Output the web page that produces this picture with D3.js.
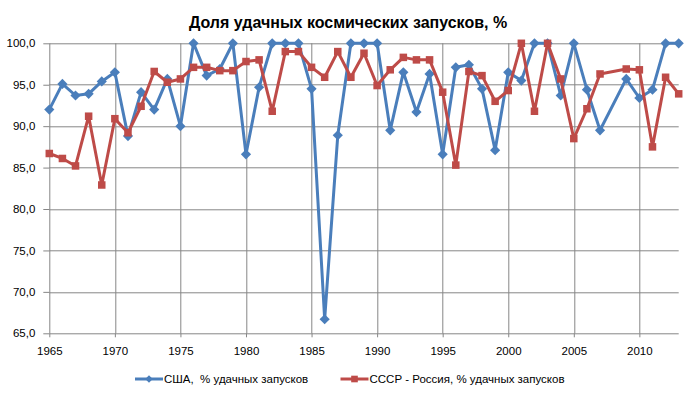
<!DOCTYPE html>
<html>
<head>
<meta charset="utf-8">
<script src="https://cdn.jsdelivr.net/npm/d3@7"></script>
<style>
  body { margin: 0; background: #fff; }
  svg { font-family: "Liberation Sans", Arial, sans-serif; }
</style>
</head>
<body>
<div id="chart"></div>
<script>
const title = "Доля удачных космических запусков, %";
const years = d3.range(1965, 2014);
// 2008 has no points in the original chart
const usa = [92.0, 95.1, 93.7, 93.9, 95.4, 96.5, 88.8, 94.1, 92.0, 95.7,
  90.0, 100, 96.1, 96.9, 100, 86.6, 94.7, 100, 100, 100,
  94.5, 66.7, 88.9, 100, 100, 100, 89.5, 96.5, 91.7, 96.3,
  86.6, 97.1, 97.4, 94.5, 87.1, 96.5, 95.5, 100, 100, 93.7,
  100, 94.4, 89.5, null, 95.7, 93.4, 94.4, 100, 100];
const ussr = [86.7, 86.1, 85.2, 91.2, 82.9, 90.9, 89.2, 92.4, 96.6, 95.3,
  95.7, 97.1, 97.1, 96.7, 96.7, 97.8, 98.0, 91.8, 99.0, 99.0,
  97.1, 95.9, 99.0, 95.9, 98.8, 94.9, 96.8, 98.3, 98.0, 98.0,
  94.1, 85.3, 96.6, 96.1, 93.0, 94.3, 100, 91.8, 100, 95.7,
  88.5, 92.1, 96.3, null, 96.9, 96.8, 87.5, 95.9, 93.9];
const seriesNames = ["США,  % удачных запусков", "СССР - Россия, % удачных запусков"];
const xTicks = d3.range(1965, 2011, 5);
const yTicks = d3.range(65, 101, 5);

const W = 698, H = 398;
const margin = {top: 43.3, right: 19.3, bottom: 64.7, left: 49.3};
const width = W - margin.left - margin.right;
const height = H - margin.top - margin.bottom;
const gridColor = "#868686";
const colors = ["#4A7EBB", "#BE4B48"];

const svg = d3.select("#chart").append("svg")
  .attr("width", W).attr("height", H);

svg.append("text")
  .attr("x", 348).attr("y", 28)
  .attr("text-anchor", "middle")
  .attr("font-weight", "bold")
  .attr("font-size", 16)
  .text(title);

const g = svg.append("g")
  .attr("transform", "translate(" + margin.left + "," + margin.top + ")");

const x = d3.scaleLinear().domain([1965, 2013]).range([0, width]);
const y = d3.scaleLinear().domain([65, 100]).range([height, 0]);

// grid
g.append("g").selectAll("line").data(yTicks).join("line")
  .attr("x1", 0).attr("x2", width)
  .attr("y1", d => Math.round(y(d)) + 0.5).attr("y2", d => Math.round(y(d)) + 0.5)
  .attr("stroke", gridColor);
g.append("g").selectAll("line").data(xTicks).join("line")
  .attr("x1", d => Math.round(x(d)) + 0.5).attr("x2", d => Math.round(x(d)) + 0.5)
  .attr("y1", 0).attr("y2", height)
  .attr("stroke", gridColor);

// axes
const fmt = d => d3.format(".1f")(d).replace(".", ",");
const yAxis = g.append("g")
  .call(d3.axisLeft(y).tickValues(yTicks).tickSize(6).tickPadding(8).tickFormat(fmt));
yAxis.select(".domain").remove();
yAxis.selectAll("line").attr("stroke", gridColor);
yAxis.selectAll("text").attr("font-size", 11.5).attr("fill", "#000")
  .attr("font-family", "Liberation Sans, Arial, sans-serif");

const xAxis = g.append("g")
  .attr("transform", "translate(0," + height + ")")
  .call(d3.axisBottom(x).tickValues(xTicks).tickSize(4).tickFormat(d3.format("d")));
xAxis.select(".domain").remove();
xAxis.selectAll("line").attr("stroke", gridColor);
xAxis.selectAll("text").attr("font-size", 11.5).attr("fill", "#000")
  .attr("font-family", "Liberation Sans, Arial, sans-serif")
  .attr("y", 22).attr("dy", 0);

// series
const line = d3.line().x(d => x(d[0])).y(d => y(d[1]));
const diamond = d3.symbol().type(d3.symbolDiamond2).size(66);
const square = d3.symbol().type(d3.symbolSquare2).size(72);

[usa, ussr].forEach((vals, i) => {
  const pts = years.map((yr, j) => [yr, vals[j]]).filter(d => d[1] != null);
  g.append("path")
    .datum(pts)
    .attr("fill", "none")
    .attr("stroke", colors[i])
    .attr("stroke-width", 3)
    .attr("stroke-linejoin", "round")
    .attr("d", line);
  g.append("g").selectAll("path").data(pts).join("path")
    .attr("transform", d => "translate(" + x(d[0]) + "," + y(d[1]) + ")")
    .attr("d", i === 0 ? diamond : square)
    .attr("fill", colors[i]);
});

// legend
const legend = svg.append("g");
const legendItems = [
  {x: 135, name: seriesNames[0], sym: d3.symbol().type(d3.symbolDiamond2).size(36)},
  {x: 340.5, name: seriesNames[1], sym: d3.symbol().type(d3.symbolSquare2).size(56)}
];
legendItems.forEach((it, i) => {
  const lg = legend.append("g").attr("transform", "translate(" + it.x + ",379)");
  lg.append("line").attr("x1", 0).attr("x2", 28)
    .attr("stroke", colors[i]).attr("stroke-width", 3);
  lg.append("path").attr("transform", "translate(14,0)")
    .attr("d", it.sym).attr("fill", colors[i]);
  lg.append("text").attr("x", 29).attr("dy", "0.35em")
    .attr("font-size", 11.5).style("white-space", "pre").text(it.name);
});
</script>
</body>
</html>
